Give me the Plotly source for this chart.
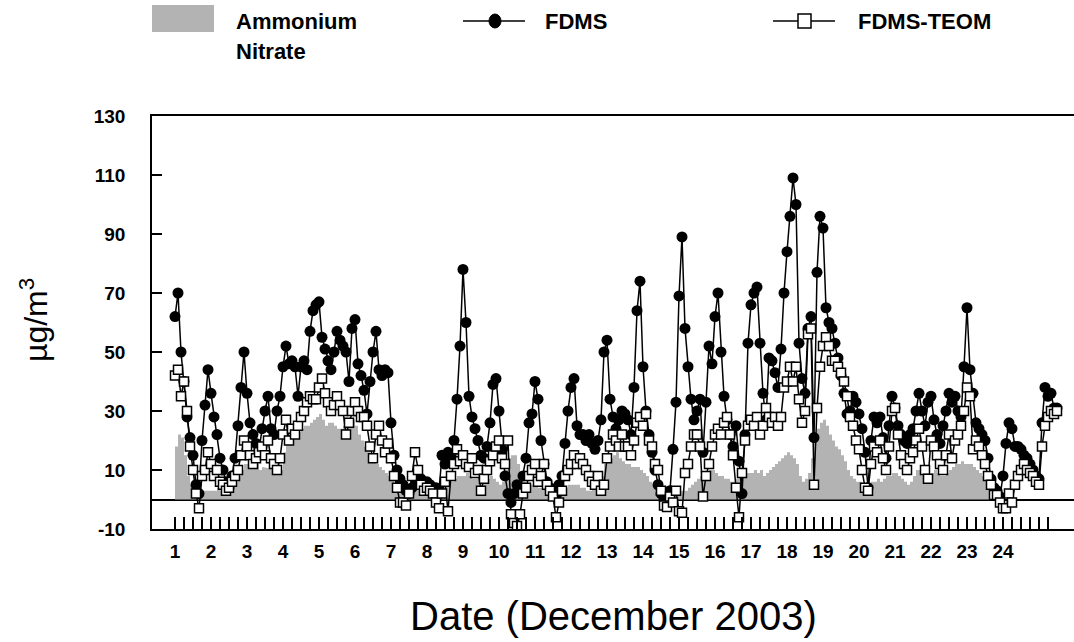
import plotly.graph_objects as go

# Time grid: 2-hourly samples starting 1 December 2003 00:00 (x axis in days of December)
t_start = 1.0
step_days = 2.0 / 24.0

fdms = [
    62, 70, 50, 40, 28, 21, 15, 5, 2, 20, 32, 44,
    36, 28, 22, 14, 10, 6, 4, 8, 14, 25, 38, 50,
    36, 26, 22, 19, 17, 24, 30, 35, 24, 22, 30, 35,
    45, 52, 46, 47, 45, 35, 45, 47, 44, 57, 64, 66,
    67, 55, 51, 47, 44, 50, 57, 54, 52, 50, 40, 58,
    61, 46, 42, 37, 29, 40, 50, 57, 44, 42, 44, 43,
    26, 15, 10, 7, 5, 3, 2, 4, 7, 6, 7, 5,
    6, 5, 3, 4, 3, 15, 12, 16, 14, 20, 34, 52,
    78, 60, 35, 28, 24, 20, 15, 14, 18, 26, 39, 41,
    30, 17, 8, 2, -1, 2, 5, 3, 8, 14, 26, 29,
    40, 34, 20, 12, 6, 4, 2, 1, 5, 8, 19, 30,
    38, 41, 25, 22, 22, 20, 22, 19, 17, 20, 27, 50,
    54, 34, 28, 24, 27, 30, 29, 27, 22, 38, 64, 74,
    45, 30, 22, 16, 10, 5, 2, 0, 1, 3, 17, 33,
    69, 89, 58, 45, 34, 27, 30, 34, 16, 33, 52, 46,
    62, 70, 50, 35, 27, 22, 18, 25, 13, 2, 22, 53,
    66, 70, 72, 53, 36, 27, 48, 47, 43, 38, 51, 70,
    84, 96, 109, 100, 53, 41, 36, 58, 62, 21, 77, 96,
    92, 65, 60, 58, 53, 48, 42, 36, 29, 30, 35, 33,
    29, 24, 16, 4, 20, 28, 26, 28, 21, 14, 25, 35,
    31, 25, 22, 20, 19, 22, 24, 30, 36, 30, 25, 33,
    35, 27, 22, 19, 25, 30, 36, 33, 35, 30, 28, 45,
    65, 44, 36, 26, 24, 22, 20, 14, 7, 4, 3, 1,
    8, 19, 26, 24, 18, 18, 17, 15, 14, 12, 10, 8,
    7, 26, 38, 35, 36, 31, 31,
]

fdms_teom = [
    42, 44, 35, 40, 30, 18, 10, 2, -3, 8, 10, 16,
    12, 8, 10, 6, 5, 3, 4, 6, 8, 10, 15, 20,
    18, 15, 12, 14, 16, 18, 15, 20, 14, 12, 10, 14,
    22, 27, 20, 24, 22, 25, 28, 30, 33, 35, 34, 34,
    38, 41, 36, 33, 30, 32, 35, 32, 30, 22, 26, 30,
    33, 30, 28, 28, 25, 18, 14, 22, 25, 20, 16, 19,
    14, 8, 4, -1, -1, -2, 2, 8, 16, 10, 5, 3,
    4, 3, 2, -1, -3, 2, 6, -4, 8, 12, 17, 13,
    15, 12, 11, 14, 9, 10, 3, 7, 10, 13, 15, 18,
    20, 14, 12, 20, -5, -8, -9, -5, 2, 4, 8, 10,
    12, 6, 8, 12, 5, 3, 1, -6, -1, 3, 8, 10,
    12, 15, 12, 14, 12, 10, 8, 6, 5, 8, 3, 5,
    14, 18, 22, 20, 18, 22, 18, 18, 15, 20, 26, 28,
    25, 29, 20, 18, 12, 10, 3, -2, -2.5, 1, -1, 3,
    -4, -4.5, 9, 12, 18, 22, 22, 18, 1, 8, 12, 18,
    22, 24, 22, 26, 28, 22, 15, 4, -6, 9, 20, 25,
    27, 25, 28, 22, 25, 31, 28, 26, 28, 25, 28, 38,
    40, 45, 40, 45, 34, 26, 30, 56, 58, 5, 31, 45,
    52, 55, 52, 47, 47, 45, 43, 40, 35, 28, 25, 20,
    17, 10, 4, 3, 12, 18, 16, 20, 14, 10, 18, 30,
    31, 22, 15, 12, 10, 14, 16, 20, 24, 18, 10, 7,
    20, 18, 15, 12, 10, 15, 22, 14, 20, 22, 25, 30,
    38, 35, 17, 20, 18, 15, 12, 8, 5, 1.5, 1.5, -1,
    -3, -3, 2, -1, 5, 8, 10, 12, 10, 9, 8, 6,
    5, 18, 25, 28, 30, 29, 30,
]

ammonium_nitrate = [
    18, 22, 21, 15, 8, 5, 3, 3, 3, 3, 3, 3,
    3, 3, 4, 3, 3, 4, 5, 5, 6, 8, 10, 12,
    12, 12, 11, 12, 10, 11, None, None, None, None, None, 10,
    16, 19, 20, 22, 22, 23, 24, 25, 25, 26, 27, 28,
    29, 27, 25, 26, 26, 25, 24, 24, 25, 26, 27, 27,
    25, 22, 20, 18, 17, 15, 13, 12, 11, 10, 9, 8,
    7, 6, 5, 5, 5, 4, 4, 4, 5, 5, 4, 4,
    4, 4, 3, 3, 3, 4, 5, 6, 6, 7, 8, 8,
    8, 9, 8, 7, 7, 8, 7, 6, 7, 8, 7, 6,
    5, 6, 10, 14, 15, 15, 12, 8, 6, 5, 5, 5,
    5, 4, 4, 5, 5, 4, 3, 3, 3, 4, 4, 5,
    5, 5, 5, 4, 4, 3, 3, 4, 5, 6, 8, 12,
    13, 14, 15, 16, 14, 13, 12, 12, 11, 11, 11, 10,
    9, 8, 6, 5, 4, 3, 2, 1, 1, 1, 2, 3,
    3, 3, 3, 4, 5, 6, 7, 8, 8, 9, 10, 10,
    9, 8, 8, 7, 7, 6, 6, 7, 8, 8, 9, 9,
    9, 10, 9, 10, 8, 9, 10, 11, 12, 13, 14, 15,
    16, 15, 14, 12, 8, 6, 7, 9, 14, 20, 24, 26,
    27, 25, 22, 20, 18, 17, 15, 13, 10, 8, 7, 6,
    6, 5, 4, 5, 6, 6, 7, 6, 7, 8, 8, 9,
    9, 8, 7, 6, 5, 6, 8, 10, 10, 9, 8, 8,
    9, 10, 9, 8, 8, 9, 10, 11, 12, 12, 13, 12,
    12, 12, 11, 10, 9, 8, 7, 5, 3, 2,
]

day_ticks = list(range(1, 25))
day_labels = [str(d) for d in day_ticks]
y_ticks = [-10, 10, 30, 50, 70, 90, 110, 130]
y_ticktext = ["-10", "10", "30", "50", "70", "90", "110", "130"]

times = [t_start + i * step_days for i in range(len(fdms))]
t_teom = [t_start + i * step_days for i in range(len(fdms_teom))]
t_an = [t_start + i * step_days for i in range(len(ammonium_nitrate))]

# minor ticks every 6 hours from day 1 to 25.25
quarter_ticks = [1 + q * 0.25 for q in range(0, 98)]

fig = go.Figure()

fig.add_trace(go.Scatter(
    x=t_an, y=ammonium_nitrate, mode="lines", line=dict(width=0, shape="hv"),
    fill="tozeroy", fillcolor="#b3b3b3", connectgaps=False, showlegend=False,
    hoverinfo="skip",
))
fig.add_trace(go.Scatter(
    x=times, y=fdms, mode="lines+markers",
    line=dict(color="black", width=1.5),
    marker=dict(symbol="circle", size=11, color="black"),
    showlegend=False,
))
fig.add_trace(go.Scatter(
    x=t_teom, y=fdms_teom, mode="lines+markers",
    line=dict(color="black", width=1.5),
    marker=dict(symbol="square", size=9, color="white", line=dict(color="black", width=1.5)),
    showlegend=False,
))

L, R, T, B = 152, 1074, 116, 529
W, H = 1074, 642


def px(x):
    return (x - L) / (R - L)


def py(y):
    return (B - y) / (B - T)


tick_font = dict(family="Liberation Sans, Arial, sans-serif", size=19, color="black", weight="bold")

fig.update_layout(
    width=W, height=H,
    margin=dict(l=L, r=W - R, t=T, b=H - B, pad=0),
    paper_bgcolor="white", plot_bgcolor="white",
    showlegend=False,
    xaxis=dict(
        range=[1 + (L - 175) / 36.0, 1 + (R - 175) / 36.0],
        tickmode="array", tickvals=day_ticks, ticktext=day_labels, tickangle=0,
        ticks="inside", ticklen=12, tickwidth=1.5, tickcolor="black",
        minor=dict(tickmode="array", tickvals=quarter_ticks, ticks="inside",
                   ticklen=12, tickwidth=1.5, tickcolor="black", showgrid=False),
        showline=True, linecolor="black", linewidth=1.5, mirror=True,
        showgrid=False, zeroline=False, tickfont=tick_font,
        ticklabelstandoff=4,
    ),
    yaxis=dict(
        range=[-10, 130], tickmode="array", tickvals=y_ticks, ticktext=y_ticktext,
        ticks="inside", ticklen=10, tickwidth=1.5, tickcolor="black",
        showline=True, linecolor="black", linewidth=1.5, mirror=False,
        showgrid=False, zeroline=True, zerolinecolor="black", zerolinewidth=1.5,
        tickfont=tick_font, ticklabelstandoff=21,
    ),
)

# axis titles
fig.add_annotation(
    x=px(34), y=py(320), xref="paper", yref="paper", text="µg/m<sup>3</sup>",
    textangle=-90, showarrow=False, xanchor="center", yanchor="middle",
    font=dict(family="Liberation Sans, Arial, sans-serif", size=32, color="black"),
)
fig.add_annotation(
    x=px(613), y=py(616), xref="paper", yref="paper", text="Date (December 2003)",
    showarrow=False, xanchor="center", yanchor="middle",
    font=dict(family="Liberation Sans, Arial, sans-serif", size=40, color="black"),
)

# custom legend
leg_font = dict(family="Liberation Sans, Arial, sans-serif", size=22, color="black", weight="bold")
fig.add_shape(type="rect", xref="paper", yref="paper", x0=px(152), x1=px(214), y0=py(32), y1=py(5),
              fillcolor="#b3b3b3", line=dict(width=0))
fig.add_annotation(x=px(234), y=py(21), xref="paper", yref="paper", text="Ammonium",
                   showarrow=False, xanchor="left", yanchor="middle", font=leg_font)
fig.add_annotation(x=px(234), y=py(52), xref="paper", yref="paper", text="Nitrate",
                   showarrow=False, xanchor="left", yanchor="middle", font=leg_font)

fig.add_shape(type="line", xref="paper", yref="paper", x0=px(463), x1=px(525), y0=py(21), y1=py(21),
              line=dict(color="black", width=1.5))
fig.add_shape(type="circle", xref="paper", yref="paper", x0=px(489), x1=px(501), y0=py(28), y1=py(14),
              fillcolor="black", line=dict(color="black", width=1))
fig.add_annotation(x=px(543), y=py(21), xref="paper", yref="paper", text="FDMS",
                   showarrow=False, xanchor="left", yanchor="middle", font=leg_font)

fig.add_shape(type="line", xref="paper", yref="paper", x0=px(773), x1=px(835), y0=py(21), y1=py(21),
              line=dict(color="black", width=1.5))
fig.add_shape(type="rect", xref="paper", yref="paper", x0=px(798), x1=px(811), y0=py(28), y1=py(14),
              fillcolor="white", line=dict(color="black", width=1.5))
fig.add_annotation(x=px(856), y=py(21), xref="paper", yref="paper", text="FDMS-TEOM",
                   showarrow=False, xanchor="left", yanchor="middle", font=leg_font)

fig.write_html(
    "out.html",
    config={"displayModeBar": False},
    post_script="document.body.style.margin='0';document.body.style.overflow='hidden';",
)
